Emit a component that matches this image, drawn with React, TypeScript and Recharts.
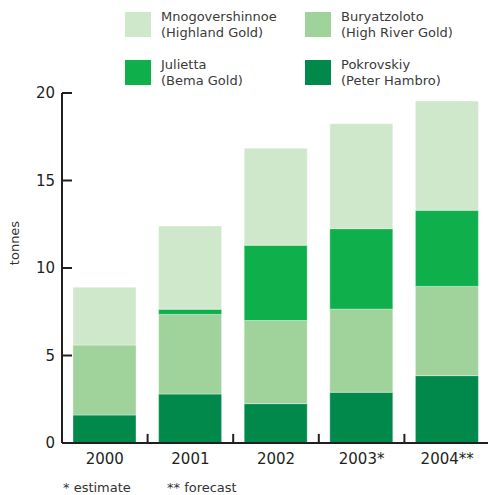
import { BarChart, Bar, XAxis, YAxis, ReferenceLine } from "recharts";

const years = ["2000", "2001", "2002", "2003*", "2004**"];
const pokrovskiy = [1.6, 2.8, 2.25, 2.9, 3.85];
const buryatzoloto = [4.0, 4.55, 4.75, 4.75, 5.1];
const julietta = [0, 0.3, 4.3, 4.6, 4.35];
const mnogovershinnoe = [3.3, 4.75, 5.55, 6.0, 6.25];
const yTicks = [0, 5, 10, 15, 20];

const series = [
	{ key: "pok", name: "Pokrovskiy", owner: "(Peter Hambro)", color: "#00894b", values: pokrovskiy },
	{ key: "bur", name: "Buryatzoloto", owner: "(High River Gold)", color: "#9fd39b", values: buryatzoloto },
	{ key: "jul", name: "Julietta", owner: "(Bema Gold)", color: "#0fb04b", values: julietta },
	{ key: "mno", name: "Mnogovershinnoe", owner: "(Highland Gold)", color: "#cfe8cc", values: mnogovershinnoe },
];

// legend reads left-to-right, top-to-bottom
const legendOrder = ["mno", "bur", "jul", "pok"];

const data = years.map((year, i) => {
	const row: Record<string, string | number> = { year };
	for (const s of series) row[s.key] = s.values[i];
	return row;
});

const FONT = "'DejaVu Sans', Verdana, sans-serif";
const INK = "#231f20";
const EDGE_TICK = 0.52; // height of the marks between years, in tonnes

function TonnesLabel(props: any) {
	const vb = props.viewBox || { x: 0, y: 0, width: 62, height: 350 };
	const x = vb.x + 19;
	const y = vb.y + vb.height / 2 - 25;
	return (
		<text
			x={x}
			y={y}
			transform={`rotate(-90, ${x}, ${y})`}
			textAnchor="middle"
			fontSize={13}
			fontFamily={FONT}
			fill="#333"
		>
			tonnes
		</text>
	);
}

function Legend() {
	return (
		<svg width={488} height={100} style={{ position: "absolute", left: 0, top: 0 }}>
			{legendOrder.map((k, i) => {
				const s = series.find((d) => d.key === k)!;
				const col = i % 2;
				const row = Math.floor(i / 2);
				const x = 125 + col * 180;
				const y = 12 + row * 48;
				return (
					<g key={k} fontFamily={FONT} fontSize={13} fill="#3a3a3a">
						<rect x={x} y={y} width={26} height={25} fill={s.color} />
						<text x={x + 36} y={y + 9}>{s.name}</text>
						<text x={x + 36} y={y + 25}>{s.owner}</text>
					</g>
				);
			})}
		</svg>
	);
}

export default function App() {
	return (
		<div style={{ position: "absolute", left: 0, top: 0, width: 488, height: 495, overflow: "hidden", background: "#fff" }}>
			<BarChart
				width={492}
				height={495}
				data={data}
				margin={{ top: 93, right: 2, left: 0, bottom: 22 }}
				barSize={63}
			>
				<XAxis
					dataKey="year"
					height={30}
					tickLine={false}
					tickSize={0}
					tickMargin={10}
					axisLine={{ stroke: INK, strokeWidth: 2 }}
					tick={{ fontSize: 15, fontFamily: FONT, fill: INK }}
				/>
				<YAxis
					width={62}
					domain={[0, 20]}
					ticks={yTicks}
					interval={0}
					tickSize={-10}
					tickMargin={17}
					axisLine={{ stroke: INK, strokeWidth: 2 }}
					tickLine={{ stroke: INK, strokeWidth: 2 }}
					tick={{ fontSize: 15, fontFamily: FONT, fill: INK }}
					label={{ content: TonnesLabel }}
				/>
				{series.map((s) => (
					<Bar
						key={s.key}
						dataKey={s.key}
						name={s.name}
						stackId="a"
						fill={s.color}
						stroke="#ffffff"
						strokeOpacity={0.45}
						strokeWidth={0.8}
						isAnimationActive={false}
					/>
				))}
				{years.slice(0, -1).map((y) => (
					<ReferenceLine
						key={y}
						position="end"
						segment={[
							{ x: y, y: 0 },
							{ x: y, y: EDGE_TICK },
						]}
						stroke={INK}
						strokeWidth={2}
					/>
				))}
			</BarChart>
			<Legend />
			<svg width={488} height={30} style={{ position: "absolute", left: 0, top: 470 }}>
				<g fontFamily={FONT} fontSize={13} fill="#333">
					<text x={63} y={22}>* estimate</text>
					<text x={167} y={22}>** forecast</text>
				</g>
			</svg>
		</div>
	);
}
